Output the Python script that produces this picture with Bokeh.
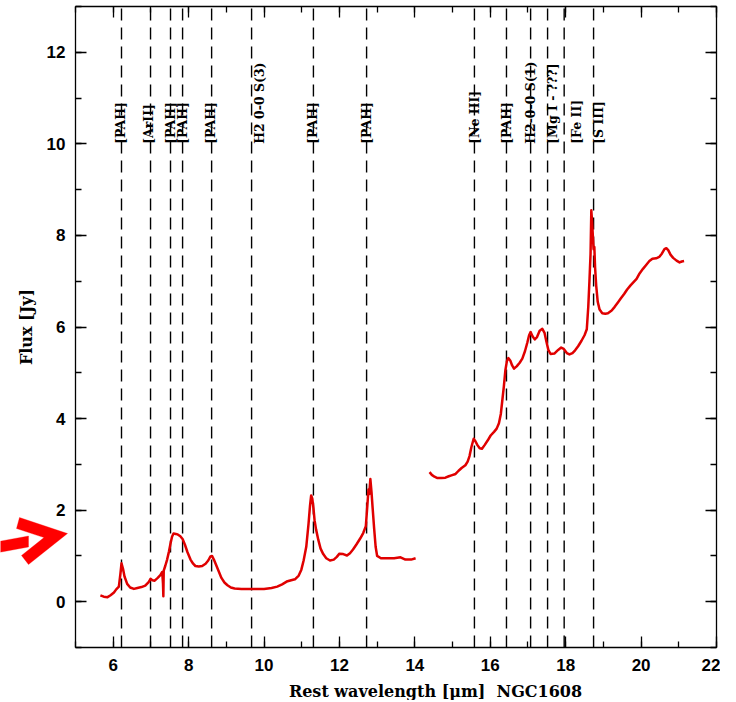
import numpy as np
from bokeh.plotting import figure
from bokeh.models import (LinearAxis, SingleIntervalTicker, Range1d, Label,
                          PolyAnnotation, ColumnDataSource)
from bokeh.embed import file_html
from bokeh.resources import INLINE

# ---------------- data ----------------
sl_wave = [5.66, 5.75, 5.85, 5.93, 6.02, 6.08, 6.15, 6.19, 6.22, 6.26, 6.30, 6.37,
           6.45, 6.55, 6.64, 6.75, 6.85, 6.94, 6.99, 7.04, 7.10, 7.18, 7.25, 7.30,
           7.32, 7.33, 7.34, 7.38, 7.43, 7.48, 7.52, 7.56, 7.60, 7.66, 7.71, 7.78,
           7.84, 7.90, 7.97, 8.05, 8.12, 8.18, 8.27, 8.36, 8.45, 8.52, 8.58, 8.62,
           8.67, 8.73, 8.80, 8.87, 8.95, 9.03, 9.12, 9.22, 9.40, 9.60, 9.80, 10.00,
           10.20, 10.35, 10.48, 10.60, 10.72, 10.82, 10.92, 10.99, 11.05, 11.12,
           11.18, 11.22, 11.25, 11.28, 11.31, 11.34, 11.38, 11.44, 11.50, 11.57,
           11.65, 11.75, 11.85, 11.93, 12.00, 12.10, 12.20, 12.28, 12.36, 12.45,
           12.55, 12.63, 12.70, 12.74, 12.77, 12.79, 12.82, 12.85, 12.88, 12.92,
           12.96, 13.00, 13.10, 13.25, 13.45, 13.62, 13.75, 13.90, 14.02]
sl_flux = [0.14, 0.11, 0.10, 0.14, 0.20, 0.27, 0.33, 0.60, 0.84, 0.72, 0.55, 0.39,
           0.31, 0.28, 0.30, 0.32, 0.35, 0.43, 0.50, 0.47, 0.46, 0.52, 0.58, 0.65,
           0.40, 0.12, 0.68, 0.78, 0.92, 1.10, 1.27, 1.42, 1.49, 1.48, 1.47, 1.43,
           1.37, 1.25, 1.08, 0.92, 0.83, 0.78, 0.77, 0.78, 0.83, 0.90, 0.99, 1.00,
           0.92, 0.80, 0.66, 0.52, 0.42, 0.36, 0.31, 0.29, 0.28, 0.28, 0.28, 0.28,
           0.30, 0.33, 0.38, 0.44, 0.47, 0.49, 0.57, 0.70, 0.90, 1.20,
           1.70, 2.10, 2.32, 2.25, 2.05, 1.78, 1.58, 1.35, 1.16, 1.04,
           0.95, 0.90, 0.92, 0.98, 1.05, 1.04, 1.01, 1.06, 1.14, 1.25,
           1.38, 1.50, 1.65, 2.10, 2.45, 2.35, 2.68, 2.40, 2.05, 1.60,
           1.20, 1.00, 0.95, 0.95, 0.95, 0.97, 0.92, 0.92, 0.95]

ll_wave = [14.39, 14.45, 14.52, 14.60, 14.70, 14.81, 14.90, 14.97, 15.08, 15.16,
           15.24, 15.34, 15.40, 15.45, 15.50, 15.56, 15.61, 15.66, 15.72, 15.78,
           15.85, 15.93, 16.01, 16.10, 16.17, 16.23, 16.28, 16.32, 16.36, 16.40,
           16.44, 16.48, 16.53, 16.58, 16.63, 16.70, 16.78, 16.85, 16.92, 16.98,
           17.03, 17.07, 17.12, 17.18, 17.24, 17.31, 17.38, 17.44, 17.49, 17.54,
           17.60, 17.70, 17.80, 17.88, 17.95, 18.03, 18.10, 18.18, 18.25, 18.33,
           18.42, 18.50, 18.56, 18.60, 18.63, 18.66, 18.68, 18.70, 18.72, 18.74,
           18.76, 18.78, 18.81, 18.85, 18.90, 18.97, 19.05, 19.12, 19.22, 19.30,
           19.38, 19.46, 19.55, 19.63, 19.72, 19.80, 19.88, 19.96, 20.05, 20.14,
           20.22, 20.30, 20.40, 20.48, 20.55, 20.62, 20.67, 20.72, 20.78, 20.85,
           20.94, 21.02, 21.08, 21.14]
ll_flux = [2.83, 2.77, 2.73, 2.70, 2.70, 2.71, 2.74, 2.76, 2.79, 2.86,
           2.92, 2.98, 3.06, 3.18, 3.38, 3.56, 3.50, 3.42, 3.35, 3.34,
           3.42, 3.52, 3.63, 3.71, 3.78, 3.90, 4.10, 4.40, 4.70, 5.05,
           5.25, 5.32, 5.27, 5.16, 5.09, 5.14, 5.22, 5.31, 5.47, 5.65,
           5.82, 5.89, 5.80, 5.73, 5.78, 5.92, 5.96, 5.87, 5.68, 5.50,
           5.41, 5.42, 5.50, 5.55, 5.52, 5.43, 5.40, 5.43, 5.49, 5.58,
           5.70, 5.82, 5.95, 6.45, 7.00, 7.60, 8.55, 8.30, 8.00, 7.70,
           7.75, 7.30, 6.90, 6.55, 6.38, 6.30, 6.29, 6.30, 6.36, 6.44,
           6.53, 6.62, 6.72, 6.82, 6.91, 6.98, 7.05, 7.17, 7.27, 7.36,
           7.44, 7.49, 7.50, 7.53, 7.60, 7.70, 7.72, 7.68, 7.58, 7.51,
           7.45, 7.41, 7.43, 7.44]

line_wave = [6.22, 6.99, 7.52, 7.84, 8.61, 9.67, 11.31, 12.72, 15.58, 16.43,
             17.07, 17.52, 17.96, 18.74]
line_name = ["[PAH]", "[ArII]", "[PAH]", "[PAH]", "[PAH]", "H2 0-0 S(3)", "[PAH]",
             "[PAH]", "[Ne III]", "[PAH]", "H2-0-0 S(1)", "[Mg I - ???]",
             "[Fe II]", "[S III]"]
label_level = 10.0
x_label_text = "Rest wavelength [\u03bcm]\u00a0 NGC1608"
y_label_text = "Flux [Jy]"

X0, X1 = 5, 22
Y0, Y1 = -1, 13
x_ticks_step = 2
y_ticks_step = 2

# ---------------- styles / layout ----------------
label_dx = [-1, -2, 0, 0, -1, 8, -1, 0, 0, 0, 0, 5, 12, 5]
RED = "#e00000"
W, H = 720, 700
FL, FT, FR, FB = 75, 6, 716, 647          # plot-box edges in canvas pixels
sx = (FR - FL) / (X1 - X0)
sy = (FB - FT) / (Y1 - Y0)


def px_to_data(px, py):
    """Convert canvas pixel positions (decorations only) into data units."""
    return ([X0 + (a - FL) / sx for a in px], [Y1 - (b - FT) / sy for b in py])


# the drawing area covers the whole canvas; the plot box is made of axes
# pinned at the range limits, so the margin annotation can be drawn
p = figure(width=W, height=H, output_backend="svg", toolbar_location=None,
           x_range=Range1d(X0 - FL / sx, X0 + (W - FL) / sx),
           y_range=Range1d(Y1 - (H - FT) / sy, Y1 + FT / sy),
           x_axis_location=None, y_axis_location=None,
           min_border=0)
p.background_fill_color = "white"
p.border_fill_color = "white"
p.outline_line_color = None
p.xgrid.visible = False
p.ygrid.visible = False


def make_axis(step, loc, bounds, show_labels):
    ax = LinearAxis(ticker=SingleIntervalTicker(interval=step, num_minor_ticks=2),
                    fixed_location=loc, bounds=bounds)
    ax.major_tick_in = 11
    ax.major_tick_out = 0
    ax.minor_tick_in = 6
    ax.minor_tick_out = 0
    ax.major_tick_line_width = 1.3
    ax.minor_tick_line_width = 1.3
    ax.axis_line_width = 1.3
    ax.major_tick_line_color = "black"
    ax.minor_tick_line_color = "black"
    ax.axis_line_color = "black"
    if show_labels:
        ax.major_label_text_font = "Liberation Sans"
        ax.major_label_text_font_style = "bold"
        ax.major_label_text_font_size = "17px"
        ax.major_label_text_color = "black"
    else:
        ax.major_label_text_font_size = "0px"
        ax.major_label_text_color = None
        ax.major_label_standoff = 0
    return ax


xb = make_axis(x_ticks_step, Y0, (X0, X1), True)
xb.major_label_standoff = 11
p.add_layout(xb, "below")

yl = make_axis(y_ticks_step, X0, (Y0, Y1), True)
yl.major_label_standoff = 10
yl.major_label_orientation = "horizontal"
yl.axis_label = y_label_text
yl.axis_label_standoff = 8
yl.axis_label_text_font = "DejaVu Serif"
yl.axis_label_text_font_style = "bold"
yl.axis_label_text_font_size = "16px"
yl.axis_label_text_color = "black"
p.add_layout(yl, "left")

p.add_layout(make_axis(x_ticks_step, Y1, (X0, X1), False), "above")
p.add_layout(make_axis(y_ticks_step, X1, (Y0, Y1), False), "right")

# x label (sits right of centre in the reference)
lx, ly = px_to_data([435], [691])
p.add_layout(Label(x=lx[0], y=ly[0], text=x_label_text, text_align="center",
                   text_baseline="middle", text_font="DejaVu Serif",
                   text_font_style="bold", text_font_size="16px",
                   text_color="black"))

# dashed line markers
lines_src = ColumnDataSource(dict(x=line_wave, y0=[Y0] * len(line_wave),
                                  y1=[Y1] * len(line_wave)))
p.segment(x0="x", y0="y0", x1="x", y1="y1", source=lines_src,
          line_color="black", line_width=1.4, line_dash="12 7")

# spectrum
p.line(sl_wave, sl_flux, line_color=RED, line_width=2.5, line_join="round")
p.line(ll_wave, ll_flux, line_color=RED, line_width=2.5, line_join="round")

# labels
lab_src = ColumnDataSource(dict(x=line_wave, y=[label_level] * len(line_wave),
                                text=line_name, dx=label_dx))
p.text(x="x", y="y", text="text", source=lab_src, angle=np.pi / 2,
       x_offset="dx", text_align="left", text_baseline="middle",
       text_font_size="12.5px", text_font_style="bold", text_color="black",
       text_font={"value": "DejaVu Serif"})

# red arrow annotation at the left margin (decoration)
shaft_x, shaft_y = px_to_data([-2, 28, 28, -2], [541, 535.5, 546.5, 552])
head_x, head_y = px_to_data([19, 67, 28, 21, 43.5, 16], [517, 533, 564, 555, 537.1, 528])
for xs, ys in ((shaft_x, shaft_y), (head_x, head_y)):
    p.add_layout(PolyAnnotation(xs=xs, ys=ys, fill_color="#ff0000", fill_alpha=1.0,
                                line_color="#ff0000", line_width=1))

open("out.html", "w").write(file_html(p, INLINE))
